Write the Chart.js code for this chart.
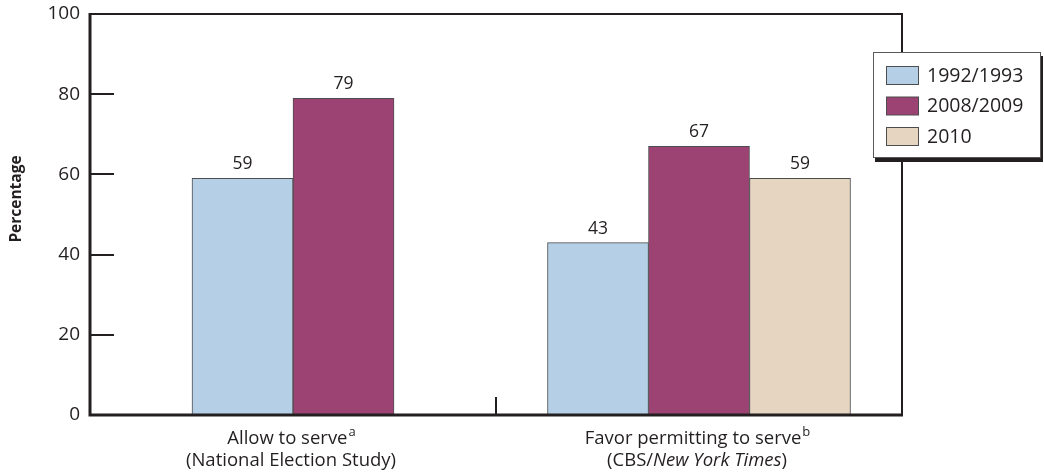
<!DOCTYPE html>
<html>
<head>
<meta charset="utf-8">
<script src="https://cdn.jsdelivr.net/npm/chart.js@4.4.1/dist/chart.umd.min.js"></script>
<style>
    html, body { margin: 0; padding: 0; background: #ffffff; }
    #wrap { width: 1044px; height: 475px; }
</style>
</head>
<body>
<div id="wrap"><canvas id="surveyChart" width="1044" height="475"></canvas></div>
<script>
const categories = ['Allow to serve', 'Favor permitting to serve'];
const categoryNotes = ['a', 'b'];
// second line under each category; italic runs flagged
const categorySources = [
    [{text: '(National Election Study)'}],
    [{text: '(CBS/'}, {text: 'New York Times', italic: true}, {text: ')'}]
];
const seriesLabels = ['1992/1993', '2008/2009', '2010'];
const values1992 = [59, 43];
const values2008 = [79, 67];
const values2010 = [null, 59];
const yTicks = [0, 20, 40, 60, 80, 100];

const INK = '#231f20';
const FONT = '"Open Sans", "Noto Sans", sans-serif';
const seriesColors = ['#b5cfe6', '#9d4373', '#e6d5c1'];

function fontStr(size, opts = {}) {
    return `${opts.italic ? 'italic ' : ''}${opts.bold ? 'bold ' : ''}${size}px ${FONT}`;
}

const framePlugin = {
    id: 'frame',
    afterDatasetsDraw(chart) {
        const {ctx, chartArea: a, scales} = chart;
        ctx.save();
        ctx.strokeStyle = INK;
        ctx.lineCap = 'butt';

        // thin top and right edges
        ctx.lineWidth = 2;
        ctx.beginPath();
        ctx.moveTo(a.left, a.top);
        ctx.lineTo(a.right, a.top);
        ctx.lineTo(a.right, a.bottom);
        ctx.stroke();

        // heavy left and bottom axes
        ctx.lineWidth = 3;
        ctx.beginPath();
        ctx.moveTo(a.left, a.top - 1);
        ctx.lineTo(a.left, a.bottom);
        ctx.lineTo(a.right + 1, a.bottom);
        ctx.stroke();

        // inward y ticks
        ctx.lineWidth = 2;
        yTicks.forEach(v => {
            if (v === 0 || v === 100) return;
            const y = Math.round(scales.y.getPixelForValue(v));
            ctx.beginPath();
            ctx.moveTo(a.left, y);
            ctx.lineTo(a.left + 24, y);
            ctx.stroke();
        });

        // separator tick between the two groups
        const xs = scales.x;
        for (let i = 1; i < categories.length; i++) {
            const x = Math.round((xs.getPixelForValue(i - 1) + xs.getPixelForValue(i)) / 2);
            ctx.beginPath();
            ctx.moveTo(x, a.bottom);
            ctx.lineTo(x, a.bottom - 18);
            ctx.stroke();
        }

        // y axis title
        ctx.fillStyle = INK;
        ctx.save();
        ctx.translate(17, 199);
        ctx.rotate(-Math.PI / 2);
        ctx.font = fontStr(15.5, {bold: true});
        ctx.textAlign = 'center';
        ctx.textBaseline = 'middle';
        ctx.fillText('Percentage', 0, 0);
        ctx.restore();

        // value labels above bars
        ctx.font = fontStr(17.5);
        ctx.textAlign = 'center';
        ctx.textBaseline = 'alphabetic';
        chart.data.datasets.forEach((ds, di) => {
            chart.getDatasetMeta(di).data.forEach((bar, i) => {
                const v = ds.data[i];
                if (v === null || v === undefined) return;
                ctx.fillText(String(v), bar.x, bar.y - 9);
            });
        });

        // category labels with superscript notes
        categories.forEach((name, i) => {
            const cx = xs.getPixelForValue(i) - 2;
            ctx.textAlign = 'left';
            ctx.font = fontStr(18.5);
            const w1 = ctx.measureText(name).width;
            ctx.font = fontStr(13);
            const wn = ctx.measureText(categoryNotes[i]).width;
            let x = cx - (w1 + wn) / 2;
            ctx.font = fontStr(18.5);
            ctx.fillText(name, x, a.bottom + 29);
            ctx.font = fontStr(13);
            ctx.fillText(categoryNotes[i], x + w1 + 1, a.bottom + 21);

            const runs = categorySources[i];
            let total = 0;
            runs.forEach(r => {
                ctx.font = fontStr(18.5, r);
                total += ctx.measureText(r.text).width;
            });
            x = cx - total / 2;
            runs.forEach(r => {
                ctx.font = fontStr(18.5, r);
                ctx.fillText(r.text, x, a.bottom + 51);
                x += ctx.measureText(r.text).width;
            });
        });
        ctx.restore();
    },
    afterDraw(chart) {
        // boxed legend with a drop shadow, overlapping the right edge
        const ctx = chart.ctx;
        const box = {x: 873, y: 52, w: 168, h: 106};
        ctx.save();
        ctx.fillStyle = INK;
        ctx.fillRect(box.x + 2, box.y + 4, box.w, box.h);
        ctx.fillStyle = '#ffffff';
        ctx.fillRect(box.x, box.y, box.w, box.h);
        ctx.strokeStyle = '#58595b';
        ctx.lineWidth = 1;
        ctx.strokeRect(box.x + 0.5, box.y + 0.5, box.w - 1, box.h - 1);

        ctx.font = fontStr(19.5);
        ctx.textAlign = 'left';
        ctx.textBaseline = 'middle';
        chart.data.datasets.forEach((ds, i) => {
            const top = box.y + 14 + i * 30.5;
            ctx.fillStyle = ds.backgroundColor;
            ctx.fillRect(box.x + 13.5, top + 0.5, 32, 18);
            ctx.strokeStyle = '#4d4d4f';
            ctx.strokeRect(box.x + 13.5, top + 0.5, 32, 18);
            ctx.fillStyle = INK;
            ctx.fillText(ds.label, box.x + 54, top + 10);
        });
        ctx.restore();
    }
};

const seriesValues = [values1992, values2008, values2010];

new Chart(document.getElementById('surveyChart'), {
    type: 'bar',
    data: {
        labels: categories,
        datasets: seriesLabels.map((label, i) => ({
            label,
            data: seriesValues[i],
            backgroundColor: seriesColors[i],
            borderColor: '#4d4d4f',
            borderWidth: 1,
            barThickness: 101,
            skipNull: true
        }))
    },
    options: {
        responsive: false,
        animation: false,
        layout: {padding: {top: 14, right: 142, left: 0, bottom: 0}},
        plugins: {
            legend: {display: false},
            tooltip: {enabled: false}
        },
        scales: {
            x: {
                grid: {display: false},
                border: {display: false},
                ticks: {display: false},
                afterFit(scale) { scale.height = 60; }
            },
            y: {
                min: 0,
                max: 100,
                grid: {display: false, drawTicks: false},
                border: {display: false},
                afterBuildTicks(scale) { scale.ticks = yTicks.map(v => ({value: v})); },
                ticks: {
                    color: INK,
                    padding: 10,
                    font: {family: FONT, size: 19}
                },
                afterFit(scale) {
                    scale.width = 90;
                    scale.paddingTop = 0;
                    scale.paddingBottom = 0;
                }
            }
        }
    },
    plugins: [framePlugin]
});
</script>
</body>
</html>
